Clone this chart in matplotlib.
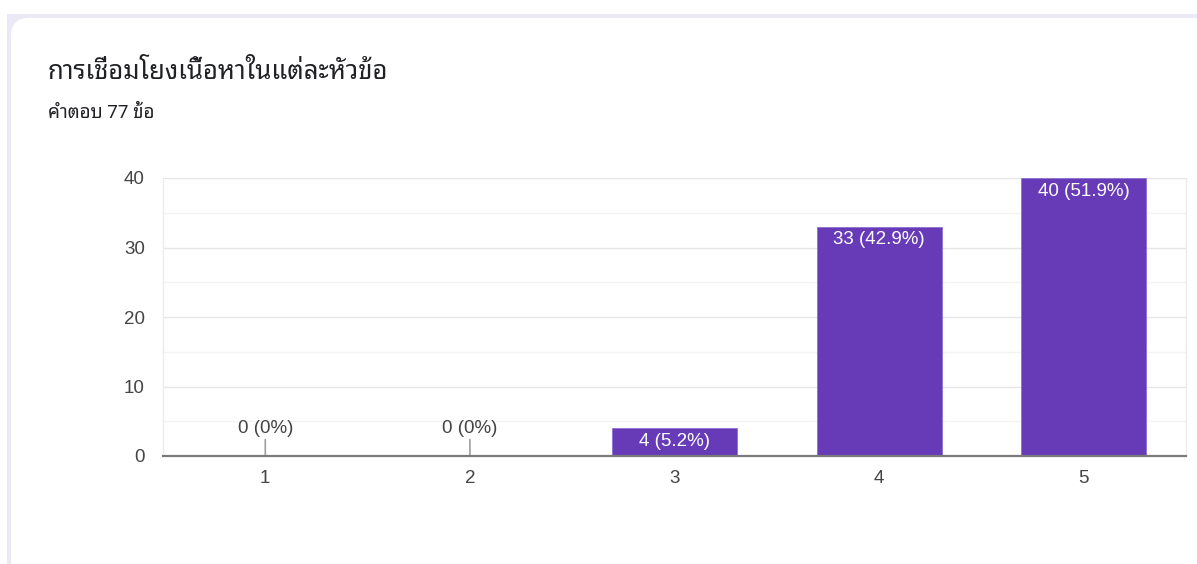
import matplotlib
matplotlib.use('Agg')
import matplotlib.pyplot as plt
from matplotlib.patches import Rectangle, FancyBboxPatch
from matplotlib.ticker import MultipleLocator

categories = ['1', '2', '3', '4', '5']
counts = [0, 0, 4, 33, 40]
total = 77
title = 'การเชื่อมโยงเนื้อหาในแต่ละหัวข้อ'
subtitle = 'คำตอบ 77 ข้อ'

W, H = 1197, 564
thai = ['Roboto', 'Noto Sans Thai Looped', 'DejaVu Sans']
num_font = ['Liberation Sans', 'DejaVu Sans']
purple = '#673ab7'
fs = 13.5

fig = plt.figure(figsize=(W / 100, H / 100), dpi=100)
fig.patch.set_facecolor('white')

# lavender page background and the white card on top of it
fig.patches.append(Rectangle((7 / W, 0), 1, 1 - 14 / H, transform=fig.transFigure,
                             facecolor='#ebe9f6', edgecolor='none', zorder=0))
fig.patches.append(FancyBboxPatch((11 / W, -0.1), 1.2, 1.1 - 18 / H,
                                  boxstyle='round,pad=0,rounding_size=0.015',
                                  transform=fig.transFigure, mutation_aspect=W / H,
                                  facecolor='white', edgecolor='none', zorder=1))

fig.text(48 / W, 1 - 79 / H, title, family=thai, fontsize=18.5, color='#202124',
         va='baseline', ha='left', zorder=3)
fig.text(48 / W, 1 - 118 / H, subtitle, family=thai, fontsize=13.5, color='#202124',
         va='baseline', ha='left', zorder=3)

ax = fig.add_axes([163 / W, 1 - 456 / H, (1186 - 163) / W, (456 - 178) / H])
ax.set_zorder(2)
ax.set_facecolor('none')
x = list(range(len(categories)))
bars = ax.bar(x, counts, width=0.61, color=purple, edgecolor='#8e6fcf', linewidth=0.6,
              zorder=3)

ax.set_xlim(-0.5, len(categories) - 0.5)
ax.set_ylim(0, 40)
ax.yaxis.set_major_locator(MultipleLocator(10))
ax.yaxis.set_minor_locator(MultipleLocator(5))
ax.grid(axis='y', which='major', color='#e6e6e6', linewidth=1, zorder=0)
ax.grid(axis='y', which='minor', color='#f3f3f3', linewidth=1, zorder=0)
ax.set_axisbelow(True)

ax.set_xticks(x)
ax.set_xticklabels(categories)
ax.tick_params(axis='both', which='both', length=0, labelsize=fs, colors='#444444')
ax.tick_params(axis='y', pad=13)
ax.tick_params(axis='x', pad=10)
for lab in ax.get_xticklabels() + ax.get_yticklabels():
    lab.set_family(num_font)

for side in ['left', 'right', 'top']:
    ax.spines[side].set_color('#ebebeb')
    ax.spines[side].set_linewidth(1)
ax.spines['top'].set_visible(False)
ax.spines['bottom'].set_color('#7a7a7a')
ax.spines['bottom'].set_linewidth(1.6)
ax.spines['bottom'].set_zorder(4)

for xi, c in zip(x, counts):
    pct = c / total * 100
    pct_txt = '0%' if c == 0 else '%.1f%%' % pct
    label = '%d (%s)' % (c, pct_txt)
    if c == 0:
        ax.annotate(label, xy=(xi, 0), xytext=(0, 20), textcoords='offset points',
                    ha='center', va='center', fontsize=fs, color='#444444',
                    family=num_font,
                    arrowprops=dict(arrowstyle='-', color='#9e9e9e', lw=1.2,
                                    shrinkA=0, shrinkB=0))
    else:
        ax.annotate(label, xy=(xi, c), xytext=(0, -9.5), textcoords='offset points',
                    ha='center', va='center', fontsize=fs, color='white',
                    family=num_font, zorder=5)

fig.savefig('out.png', dpi=100)
